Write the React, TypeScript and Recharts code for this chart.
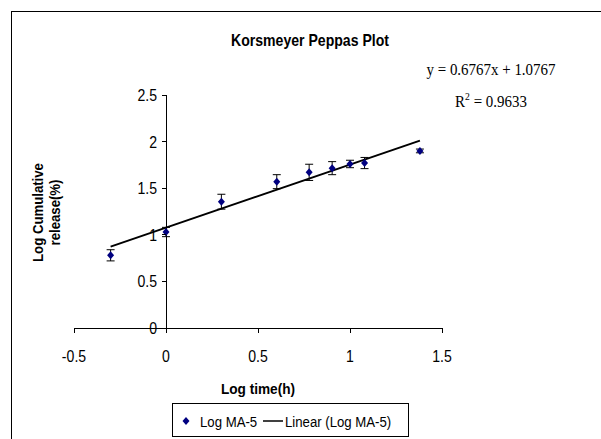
import { ComposedChart, ErrorBar, Line, ReferenceLine, Scatter, XAxis, YAxis } from "recharts";

// Korsmeyer-Peppas: log time vs log cumulative release
const logTime = [-0.301, 0, 0.301, 0.602, 0.778, 0.903, 1.0, 1.079, 1.38];
const logRelease = [0.78, 1.03, 1.355, 1.57, 1.67, 1.715, 1.76, 1.77, 1.9];
const releaseErr = [0.06, 0.05, 0.08, 0.075, 0.087, 0.07, 0.04, 0.06, 0.02];

// linear trendline end points (y = 0.6767x + 1.0767)
const trendX = [-0.301, 1.38];
const trendY = [0.873, 2.011];

const xTicks = [-0.5, 0, 0.5, 1, 1.5];
const yTicks = [0, 0.5, 1, 1.5, 2, 2.5];
const xDomain: [number, number] = [-0.5, 1.5];
const yDomain: [number, number] = [0, 2.5];

const W = 601;
const H = 439;
const X_AXIS_H = 30;
const Y_AXIS_W = 30;
const MARGIN = { top: 95, right: 159, bottom: 111 - X_AXIS_H, left: 74 - Y_AXIS_W };
const SANS = "'Liberation Sans', Arial, sans-serif";
const SERIF = "'Liberation Serif', 'Times New Roman', serif";
const CONDENSE = 0.88;
const NAVY = "#000080";

const points = logTime.map((x, i) => ({ x, y: logRelease[i], err: releaseErr[i] }));
const trend = trendX.map((x, i) => ({ x, y: trendY[i] }));

// the y axis crosses at x = 0, not at the left edge of the plot
const plotWidth = W - MARGIN.left - Y_AXIS_W - MARGIN.right;
const Y_AXIS_SHIFT = (plotWidth * (0 - xDomain[0])) / (xDomain[1] - xDomain[0]);

function CText({ x, y, children, anchor = "middle", size = 16, weight = "normal", family = SANS, rotate = 0 }: any) {
  return (
    <text
      transform={`translate(${x},${y}) rotate(${rotate}) scale(${CONDENSE},1)`}
      textAnchor={anchor}
      fontSize={size}
      fontWeight={weight}
      fontFamily={family}
      fill="#000"
    >
      {children}
    </text>
  );
}

function XTick({ x, y, payload }: any) {
  return <CText x={x} y={y + 29}>{payload.value}</CText>;
}

function YTick({ x, y, payload }: any) {
  const ax = x + Y_AXIS_SHIFT;
  return (
    <g>
      <line x1={ax - 4} x2={ax} y1={y} y2={y} stroke="#000" shapeRendering="crispEdges" />
      <CText x={ax - 9} y={y + 6} anchor="end">{payload.value}</CText>
    </g>
  );
}

function XTitle({ viewBox }: any) {
  return (
    <CText x={viewBox.x + viewBox.width / 2} y={viewBox.y + 66} size={15.5} weight="bold">
      Log time(h)
    </CText>
  );
}

function YTitle({ viewBox }: any) {
  const right = viewBox.x + viewBox.width;
  const cy = viewBox.y + viewBox.height / 2 + 1;
  return (
    <g>
      <CText x={right - 31.5} y={cy} size={15} weight="bold" rotate={-90}>Log Cumulative</CText>
      <CText x={right - 14.5} y={cy} size={15} weight="bold" rotate={-90}>release(%)</CText>
    </g>
  );
}

function Diamond({ cx, cy }: any) {
  return <polygon points={`${cx},${cy - 4} ${cx + 3.5},${cy} ${cx},${cy + 4} ${cx - 3.5},${cy}`} fill={NAVY} />;
}

export default function App() {
  return (
    <div style={{ position: "absolute", left: 0, top: 0, width: W, height: H, overflow: "hidden", background: "#fff" }}>
      <div style={{ position: "absolute", left: 11, top: 11, width: W, height: H, border: "1px solid #000" }} />
      <ComposedChart width={W} height={H} margin={MARGIN} style={{ position: "absolute", left: 0, top: 0 }}>
        <XAxis
          type="number"
          dataKey="x"
          domain={xDomain}
          ticks={xTicks}
          allowDataOverflow
          height={X_AXIS_H}
          tickSize={5}
          tickMargin={0}
          axisLine={{ stroke: "#000", shapeRendering: "crispEdges" }}
          tickLine={{ stroke: "#000", shapeRendering: "crispEdges" }}
          tick={<XTick />}
          label={<XTitle />}
        />
        <YAxis
          type="number"
          dataKey="y"
          domain={yDomain}
          ticks={yTicks}
          allowDataOverflow
          width={Y_AXIS_W}
          tickSize={0}
          tickMargin={0}
          axisLine={false}
          tickLine={false}
          tick={<YTick />}
          label={<YTitle />}
        />
        <ReferenceLine x={0} stroke="#000" strokeOpacity={1} shapeRendering="crispEdges" />
        <Scatter data={points} shape={<Diamond />} isAnimationActive={false}>
          <ErrorBar dataKey="err" direction="y" width={4} stroke="#000" strokeWidth={1} />
        </Scatter>
        <Line data={trend} dataKey="y" type="linear" stroke="#000" strokeWidth={2} dot={false} activeDot={false} isAnimationActive={false} />
      </ComposedChart>
      <svg width={W} height={H} style={{ position: "absolute", left: 0, top: 0, pointerEvents: "none" }}>
        <CText x={310} y={46} size={16} weight="bold">Korsmeyer Peppas Plot</CText>
        <CText x={491} y={75} size={17} family={SERIF}>y = 0.6767x + 1.0767</CText>
        <text transform={`translate(491,107) scale(${CONDENSE},1)`} textAnchor="middle" fontSize={17} fontFamily={SERIF} fill="#000">
          R<tspan fontSize={11} dy={-7}>2</tspan>
          <tspan dy={7}> = 0.9633</tspan>
        </text>
      </svg>
      <div style={{ position: "absolute", left: 172, top: 403, width: 235, height: 32, border: "1px solid #000", background: "#fff" }}>
        <svg width={235} height={32}>
          <polygon points="13,13 16.5,17 13,21 9.5,17" fill={NAVY} />
          <CText x={27} y={23} size={15} anchor="start">Log MA-5</CText>
          <line x1={90} x2={110} y1={17} y2={17} stroke="#000" strokeWidth={1.5} />
          <CText x={112} y={23} size={15} anchor="start">Linear (Log MA-5)</CText>
        </svg>
      </div>
    </div>
  );
}
